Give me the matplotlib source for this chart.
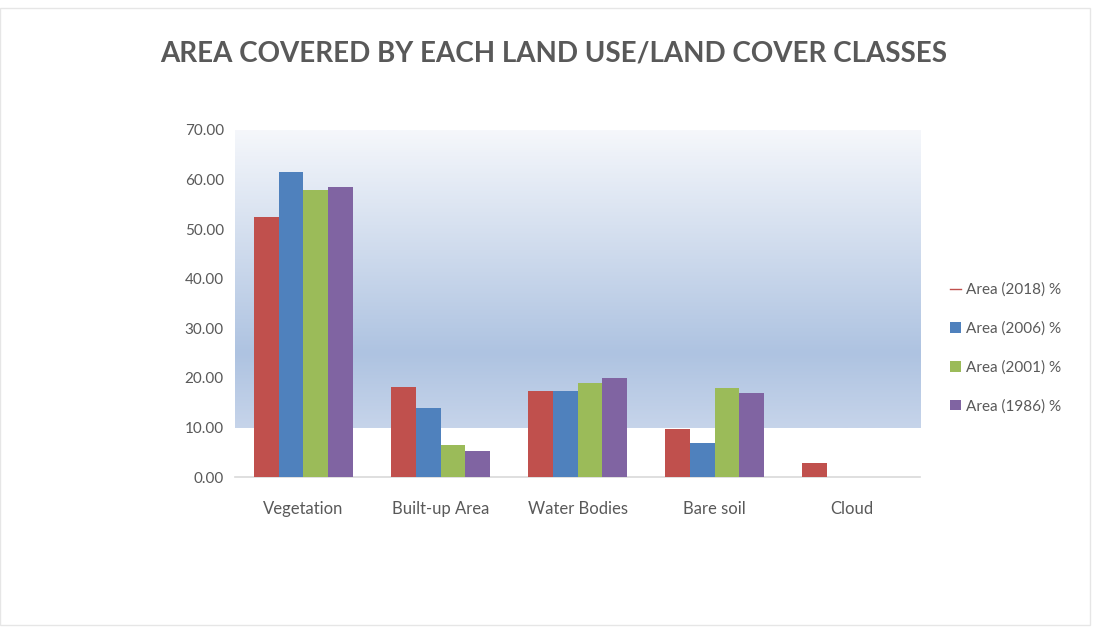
import matplotlib.pyplot as plt
import numpy as np
from matplotlib.colors import LinearSegmentedColormap
from matplotlib.patches import Patch, Rectangle
from matplotlib.lines import Line2D

plt.rcParams['font.family'] = ['Lato', 'DejaVu Sans']

# Data
categories = ['Vegetation', 'Built-up Area', 'Water Bodies', 'Bare soil', 'Cloud']
series_names = ['Area (2018) %', 'Area (2006) %', 'Area (2001) %', 'Area (1986) %']
area_2018 = [52.5, 18.1, 17.4, 9.8, 2.9]
area_2006 = [61.5, 14.0, 17.4, 6.9, 0.0]
area_2001 = [57.9, 6.5, 19.0, 17.9, 0.0]
area_1986 = [58.5, 5.3, 20.0, 17.0, 0.0]
y_ticks = [0, 10, 20, 30, 40, 50, 60, 70]

colors = ['#c0504d', '#4f81bd', '#9bbb59', '#8064a2']
text_color = '#595959'

fig = plt.figure(figsize=(10.98, 6.27), dpi=100)
ax = fig.add_axes([0.214, 0.239, 0.624, 0.554])

x = np.arange(len(categories))
width = 0.18
values = [area_2018, area_2006, area_2001, area_1986]
for i, (vals, col) in enumerate(zip(values, colors)):
    offs = (i - 1.5) * width
    ax.bar(x + offs, vals, width, color=col, zorder=3, label=series_names[i])

ax.set_xlim(-0.5, len(categories) - 0.5)
ax.set_ylim(0, 70)

# gradient band behind the bars (10 to 70)
cmap = LinearSegmentedColormap.from_list('bg', [(0, '#c6d4ea'), (0.25, '#aec3e1'), (1, '#f5f7fb')])
grad = np.linspace(0, 1, 256).reshape(-1, 1)
ax.imshow(grad, cmap=cmap, aspect='auto', origin='lower',
          extent=[-0.5, len(categories) - 0.5, 10, 70], zorder=0)

for s in ['top', 'right', 'left']:
    ax.spines[s].set_visible(False)
ax.spines['bottom'].set_color('#d9d9d9')
ax.spines['bottom'].set_linewidth(1.2)

ax.set_yticks(y_ticks)
ax.set_yticklabels(['%.2f' % v for v in y_ticks], fontsize=11, color=text_color)
ax.set_xticks(x)
ax.set_xticklabels(categories, fontsize=12, color=text_color)
ax.tick_params(axis='both', length=0)
ax.tick_params(axis='y', pad=8)
ax.tick_params(axis='x', pad=17)

fig.text(0.504, 0.915, 'AREA COVERED BY EACH LAND USE/LAND COVER CLASSES',
         ha='center', va='center', fontsize=20, fontweight='bold', color=text_color)

handles = [Line2D([0], [0], color=colors[0], lw=1, marker=None)]
handles += [Patch(facecolor=c) for c in colors[1:]]
fig.legend(handles, series_names, loc='center left', bbox_to_anchor=(0.853, 0.445),
           frameon=False, fontsize=11, labelcolor=text_color, handlelength=0.7,
           handleheight=0.7, handletextpad=0.3, labelspacing=1.6)

# faint outer border
fig.patches.append(Rectangle((0.0, 0.003), 0.993, 0.985, transform=fig.transFigure,
                             fill=False, edgecolor='#e6e6e6', lw=1))

fig.savefig('out.png', dpi=100)
